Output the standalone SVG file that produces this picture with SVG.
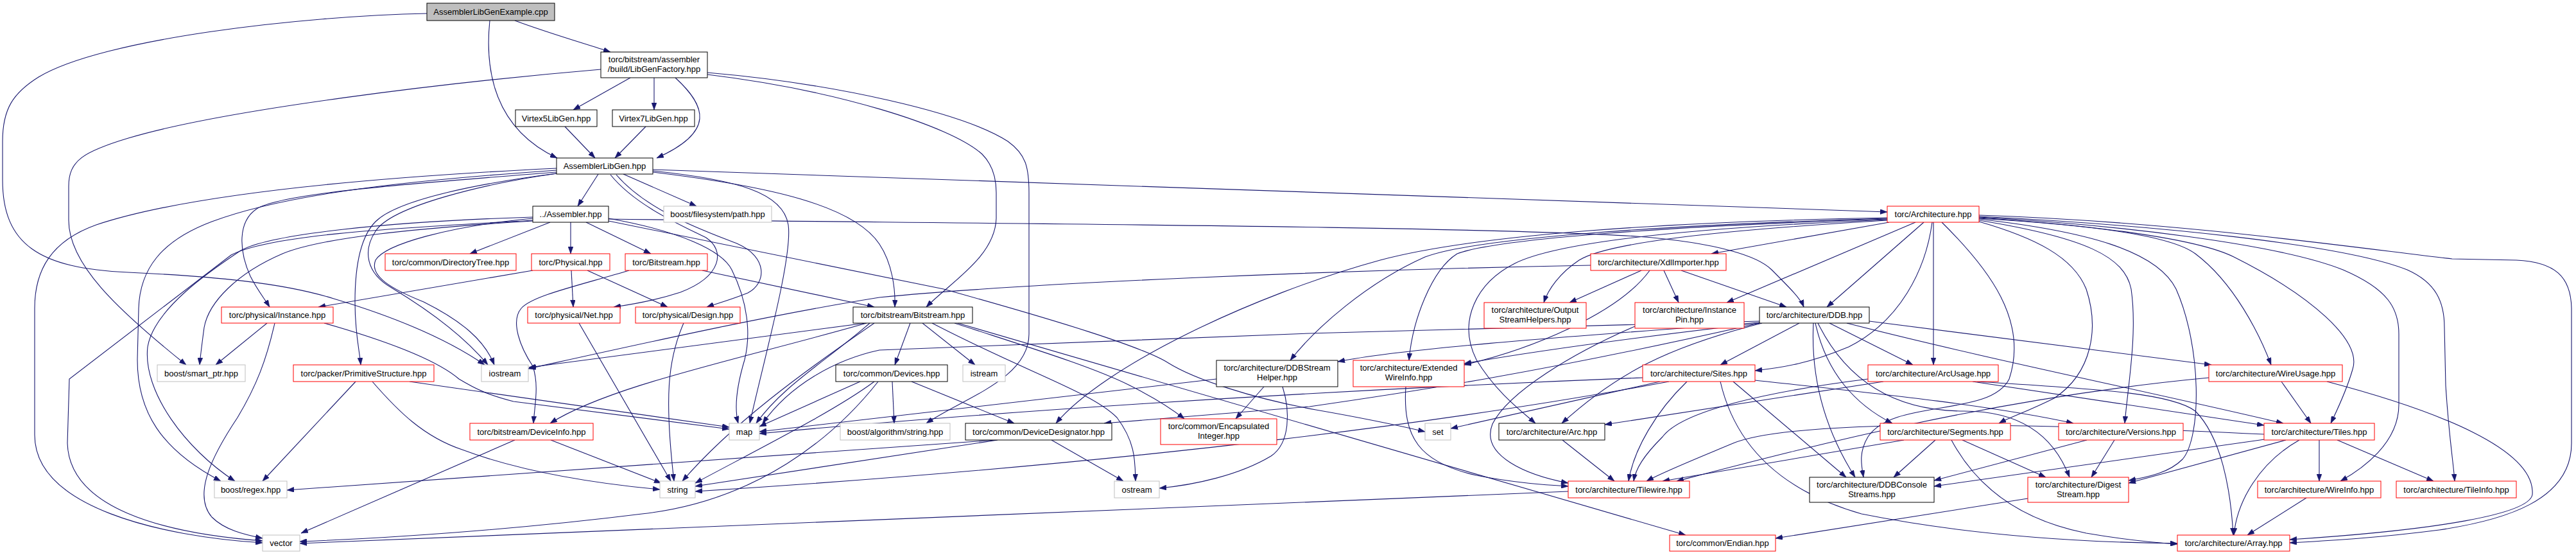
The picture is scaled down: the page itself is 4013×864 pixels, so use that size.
<svg xmlns="http://www.w3.org/2000/svg" width="4013" height="864" viewBox="0 0 4013 864">
<style>
text{font-family:"Liberation Sans",Helvetica,Arial,sans-serif;font-size:13px;text-anchor:middle;fill:#000}
.nb{fill:#fff;stroke:#000;stroke-width:1}
.nr{fill:#fff;stroke:#f00;stroke-width:1}
.ng{fill:#fff;stroke:#bfbfbf;stroke-width:1}
.root{fill:#bfbfbf;stroke:#000;stroke-width:1}
#edges path{fill:none;stroke:#191970;stroke-width:1.1;marker-end:url(#arr)}
</style>
<defs>
<marker id="arr" markerUnits="userSpaceOnUse" viewBox="0 0 11 8" markerWidth="11" markerHeight="8" refX="11" refY="4" orient="auto">
<path d="M0,0 L11,4 L0,8 Z" fill="#191970" stroke="#191970" stroke-width="0.5"/>
</marker>
</defs>
<rect x="0" y="0" width="4013" height="864" fill="#fff"/>
<g id="edges">
<path d="M802,32 C850,50 905,66 951,81"/>
<path d="M763,32 C755,110 770,200 868,246"/>
<path d="M665,21 C470,25 160,60 60,120 C20,145 4,170 4,220 L4,280 C4,380 60,418 200,424 C330,430 440,440 520,465 C620,495 700,530 755,568"/>
<path d="M982,121 L893,171"/>
<path d="M1019,121 L1019,171"/>
<path d="M1052,121 C1100,165 1115,205 1023,246"/>
<path d="M936,108 C700,128 350,170 200,215 C130,236 107,250 107,290 L107,343 C107,410 180,480 290,568"/>
<path d="M1102,113 C1300,130 1500,175 1570,220 C1598,240 1603,260 1603,300 L1603,520 C1603,590 1500,620 1443,659"/>
<path d="M1102,116 C1300,140 1480,195 1530,240 C1548,258 1552,280 1552,300 L1552,340 C1550,400 1480,440 1443,478"/>
<path d="M880,197 L927,246"/>
<path d="M1006,197 L958,246"/>
<path d="M932,271 L900,321"/>
<path d="M971,271 L1085,321"/>
<path d="M1017,264 L2940,330"/>
<path d="M867,262 C600,275 300,300 150,350 C80,375 54,420 54,480 L54,677 C54,790 250,835 409,845"/>
<path d="M867,265 C650,280 450,300 330,345 C250,375 218,420 216,480 L214,560 C214,640 250,700 344,749"/>
<path d="M867,268 C650,285 440,300 400,325 C370,345 372,390 390,430 C400,450 412,465 420,478"/>
<path d="M867,270 C750,285 620,310 585,345 C560,370 553,420 553,470 C553,520 560,545 562,568"/>
<path d="M868,270 C760,285 610,320 585,360 C565,390 570,425 610,448 C660,478 720,520 760,568"/>
<path d="M830,340 C700,352 600,380 585,405 C575,430 610,450 660,470 C720,500 755,530 770,568"/>
<path d="M830,343 C620,355 420,365 360,397 L108,590 L105,690 C108,790 250,830 409,842"/>
<path d="M830,338 C600,345 420,365 375,390 C330,420 240,480 230,540 C222,610 290,700 366,749"/>
<path d="M830,344 C650,355 500,370 440,395 C370,425 325,470 318,510 C314,540 312,555 311,568"/>
<path d="M857,346 L732,395"/>
<path d="M889,346 L889,395"/>
<path d="M913,346 L1014,395"/>
<path d="M948,341 C1500,348 2300,352 2550,368 C2680,378 2740,400 2760,420 C2790,450 2805,465 2810,478"/>
<path d="M948,344 L1470,450 C1650,500 1780,540 1820,565 C1860,590 1950,620 2050,638 C2130,652 2190,665 2220,672"/>
<path d="M948,340 C1060,360 1125,390 1140,420 C1165,470 1170,520 1160,560 C1145,610 1145,640 1150,659"/>
<path d="M951,272 C990,320 1060,350 1100,370 C1130,390 1125,430 1060,455 C1020,468 985,474 956,478"/>
<path d="M960,272 C1010,330 1100,360 1150,380 C1195,400 1195,440 1165,456 C1135,468 1112,474 1101,478"/>
<path d="M1017,266 C1150,280 1220,300 1228,350 C1235,400 1190,560 1168,659"/>
<path d="M1017,268 C1200,290 1330,320 1370,380 C1390,410 1395,450 1394,478"/>
<path d="M830,421 L496,478"/>
<path d="M890,421 L893,478"/>
<path d="M915,421 L1040,478"/>
<path d="M1094,421 L1362,478"/>
<path d="M980,421 C900,445 830,460 812,480 C795,500 810,540 830,570 C840,600 833,630 831,659"/>
<path d="M416,503 L336,568"/>
<path d="M428,503 C415,560 400,600 370,650 C330,710 300,770 330,805 C350,825 380,832 409,838"/>
<path d="M505,503 C600,530 680,560 715,590 C740,605 760,615 800,625 L1136,668"/>
<path d="M554,594 L409,749"/>
<path d="M638,594 L1136,665"/>
<path d="M580,594 C620,640 660,680 720,700 C800,730 900,750 1028,762"/>
<path d="M802,685 L469,830"/>
<path d="M858,685 L1030,752"/>
<path d="M902,503 L1045,749"/>
<path d="M1065,503 C1040,560 1035,620 1050,749"/>
<path d="M1348,503 L824,572"/>
<path d="M1350,503 C1150,560 950,600 857,659"/>
<path d="M1355,503 C1290,560 1220,600 1178,659"/>
<path d="M1362,503 C1250,580 1140,660 1063,749"/>
<path d="M1418,503 L1394,568"/>
<path d="M1437,503 L1519,568"/>
<path d="M1452,503 C1600,580 1700,610 1740,650 C1770,690 1768,720 1769,749"/>
<path d="M1487,503 C1600,540 1700,570 1760,600 C1800,620 1830,640 1845,652"/>
<path d="M1492,503 L2626,833"/>
<path d="M1340,594 L1183,664"/>
<path d="M1362,594 C1300,640 1180,700 1083,752"/>
<path d="M1368,594 C1300,680 1180,780 1000,800 C800,825 600,838 467,843"/>
<path d="M1390,594 L1393,659"/>
<path d="M1420,594 L1580,659"/>
<path d="M1969,602 L1925,652"/>
<path d="M1998,602 C2010,640 2010,690 1980,710 C1930,740 1860,755 1806,760"/>
<path d="M1895,590 L1183,672"/>
<path d="M1554,685 L1083,757"/>
<path d="M1550,685 L447,763"/>
<path d="M1638,685 L1750,749"/>
<path d="M2600,594 C2300,650 1800,720 1083,765"/>
<path d="M2559,588 C2000,610 1500,645 1183,675"/>
<path d="M2443,765 L467,846"/>
<path d="M2741,500 L2040,519 L1370,545 C1300,560 1230,600 1188,659"/>
<path d="M2741,502 C2500,520 2200,540 2084,563"/>
<path d="M2741,503 C2550,525 2400,545 2281,566"/>
<path d="M2803,503 L2680,568"/>
<path d="M2850,503 L2980,568"/>
<path d="M2745,503 C2600,540 2520,580 2433,659"/>
<path d="M2741,503 C2400,580 2200,610 2040,633 L1720,659"/>
<path d="M2825,503 C2820,600 2850,680 2890,743"/>
<path d="M2828,503 C2845,580 2890,630 2948,659"/>
<path d="M2832,503 C2880,600 2960,640 3060,640 C3150,640 3200,680 3224,743"/>
<path d="M2912,500 L3445,568"/>
<path d="M2877,503 C3100,560 3350,610 3557,659"/>
<path d="M2943,346 L2666,395"/>
<path d="M2940,339 C2600,345 2300,365 2150,405 C1950,460 1720,570 1645,659"/>
<path d="M2940,340 C2600,350 2300,370 2220,400 C2130,440 2050,510 2010,561"/>
<path d="M2940,341 C2600,352 2330,372 2270,395 C2230,420 2200,500 2195,561"/>
<path d="M2940,342 C2600,356 2420,380 2360,410 C2300,440 2270,500 2300,560 C2330,610 2370,640 2392,659"/>
<path d="M2940,343 C2650,360 2500,380 2460,405 C2430,425 2412,450 2405,471"/>
<path d="M2984,346 L2690,471"/>
<path d="M2997,346 L2846,478"/>
<path d="M3010,346 C3000,420 2960,500 2880,540 C2820,565 2780,572 2734,577"/>
<path d="M3012,346 L3012,568"/>
<path d="M3025,346 C3100,420 3160,500 3130,590 C3100,650 2950,620 2910,680 C2895,705 2900,725 2903,743"/>
<path d="M3083,345 C3170,370 3230,400 3250,450 C3270,510 3260,580 3200,620 C3160,640 3130,650 3114,659"/>
<path d="M3083,343 C3250,370 3310,400 3320,450 C3330,520 3315,600 3310,659"/>
<path d="M3083,341 C3250,360 3360,390 3390,450 C3430,540 3430,680 3400,715 C3380,735 3350,742 3316,748"/>
<path d="M3083,340 C3250,350 3380,365 3420,395 C3480,440 3520,520 3538,568"/>
<path d="M3083,339 C3250,350 3420,370 3480,400 C3600,460 3680,530 3665,575 C3655,610 3640,640 3631,659"/>
<path d="M3083,338 C3300,350 3550,380 3650,420 C3720,450 3737,480 3737,520 L3737,630 C3737,690 3680,730 3646,749"/>
<path d="M3083,337 C3350,350 3650,380 3750,420 C3795,440 3808,470 3808,510 L3810,600 C3815,680 3822,720 3824,749"/>
<path d="M3083,335 C3400,345 3700,390 3820,403 L3920,405 C3980,408 4005,430 4006,480 L4006,690 C4006,780 3900,810 3800,825 C3700,838 3620,842 3567,845"/>
<path d="M2478,413 C2100,420 1600,440 1370,463 C1200,490 1000,535 823,574"/>
<path d="M2557,421 L2445,471"/>
<path d="M2592,421 L2615,471"/>
<path d="M2619,421 L2783,478"/>
<path d="M2570,421 C2520,490 2380,545 2281,568"/>
<path d="M2547,508 C2450,550 2350,610 2325,660 C2305,710 2380,740 2443,752"/>
<path d="M2190,602 C2185,680 2210,720 2300,740 C2360,752 2410,755 2443,757"/>
<path d="M2434,685 L2515,749"/>
<path d="M2628,594 C2580,640 2545,700 2537,749"/>
<path d="M2586,594 L2260,667"/>
<path d="M2680,594 C2700,680 2760,760 2900,800 C3100,840 3300,845 3392,846"/>
<path d="M2700,594 L2876,743"/>
<path d="M2734,592 C2900,610 3100,630 3230,659"/>
<path d="M2934,594 L2500,661"/>
<path d="M2910,590 C2750,610 2620,640 2590,680 C2560,710 2548,730 2545,749"/>
<path d="M3073,594 L3527,662"/>
<path d="M3080,594 C3250,605 3380,610 3420,640 C3460,680 3475,760 3479,833"/>
<path d="M3015,685 L2950,743"/>
<path d="M3057,685 L3187,743"/>
<path d="M2966,685 L2590,749"/>
<path d="M3040,685 C3080,760 3150,810 3250,830 C3320,842 3360,845 3392,847"/>
<path d="M3251,685 L3013,748"/>
<path d="M3294,685 L3258,743"/>
<path d="M3528,684 L3013,757"/>
<path d="M3561,685 L3316,752"/>
<path d="M3441,588 C3100,620 2800,700 2612,749"/>
<path d="M3527,676 C3200,660 2800,650 2700,690 C2640,715 2590,735 2565,749"/>
<path d="M3554,594 L3600,659"/>
<path d="M3625,594 C3800,640 3950,700 3945,770 C3940,800 3800,825 3567,840"/>
<path d="M3593,775 L3501,833"/>
<path d="M3613,685 L3613,749"/>
<path d="M3641,685 L3791,749"/>
<path d="M3582,685 C3520,720 3485,780 3480,833"/>
<path d="M3159,776 L2766,838"/>
</g>
<g id="n1"><rect class="root" x="665" y="5" width="199" height="27"/><text x="764.5" y="23">AssemblerLibGenExample.cpp</text></g>
<g id="n2"><rect class="nb" x="936" y="81" width="166" height="40"/><text x="1019" y="97">torc/bitstream/assembler</text><text x="1019" y="112">/build/LibGenFactory.hpp</text></g>
<g id="n3"><rect class="nb" x="803" y="171" width="127" height="26"/><text x="866.5" y="188.5">Virtex5LibGen.hpp</text></g>
<g id="n4"><rect class="nb" x="954" y="171" width="128" height="26"/><text x="1018" y="188.5">Virtex7LibGen.hpp</text></g>
<g id="n5"><rect class="nb" x="867" y="246" width="150" height="25"/><text x="942" y="263">AssemblerLibGen.hpp</text></g>
<g id="n6"><rect class="nb" x="830" y="321" width="118" height="25"/><text x="889" y="338">../Assembler.hpp</text></g>
<g id="n7"><rect class="ng" x="1034" y="321" width="168" height="25"/><text x="1118" y="338">boost/filesystem/path.hpp</text></g>
<g id="n8"><rect class="nr" x="2940" y="321" width="143" height="25"/><text x="3011.5" y="338">torc/Architecture.hpp</text></g>
<g id="n9"><rect class="nr" x="600" y="395" width="204" height="26"/><text x="702" y="412.5">torc/common/DirectoryTree.hpp</text></g>
<g id="n10"><rect class="nr" x="828" y="395" width="122" height="26"/><text x="889" y="412.5">torc/Physical.hpp</text></g>
<g id="n11"><rect class="nr" x="974" y="395" width="128" height="26"/><text x="1038" y="412.5">torc/Bitstream.hpp</text></g>
<g id="n12"><rect class="nr" x="2478" y="395" width="211" height="26"/><text x="2583.5" y="412.5">torc/architecture/XdlImporter.hpp</text></g>
<g id="n13"><rect class="nr" x="345" y="478" width="174" height="25"/><text x="432" y="495">torc/physical/Instance.hpp</text></g>
<g id="n14"><rect class="nr" x="822" y="478" width="144" height="25"/><text x="894" y="495">torc/physical/Net.hpp</text></g>
<g id="n15"><rect class="nr" x="990" y="478" width="163" height="25"/><text x="1071.5" y="495">torc/physical/Design.hpp</text></g>
<g id="n16"><rect class="nb" x="1329" y="478" width="186" height="25"/><text x="1422" y="495">torc/bitstream/Bitstream.hpp</text></g>
<g id="n17"><rect class="nr" x="2312" y="471" width="159" height="40"/><text x="2391.5" y="487">torc/architecture/Output</text><text x="2391.5" y="502">StreamHelpers.hpp</text></g>
<g id="n18"><rect class="nr" x="2547" y="471" width="170" height="40"/><text x="2632" y="487">torc/architecture/Instance</text><text x="2632" y="502">Pin.hpp</text></g>
<g id="n19"><rect class="nb" x="2741" y="478" width="171" height="25"/><text x="2826.5" y="495">torc/architecture/DDB.hpp</text></g>
<g id="n20"><rect class="ng" x="245" y="568" width="137" height="26"/><text x="313.5" y="585.5">boost/smart_ptr.hpp</text></g>
<g id="n21"><rect class="nr" x="457" y="568" width="219" height="26"/><text x="566.5" y="585.5">torc/packer/PrimitiveStructure.hpp</text></g>
<g id="n22"><rect class="ng" x="750" y="568" width="73" height="26"/><text x="786.5" y="585.5">iostream</text></g>
<g id="n23"><rect class="nb" x="1302" y="568" width="174" height="26"/><text x="1389" y="585.5">torc/common/Devices.hpp</text></g>
<g id="n24"><rect class="ng" x="1500" y="568" width="66" height="26"/><text x="1533" y="585.5">istream</text></g>
<g id="n25"><rect class="nb" x="1895" y="561" width="189" height="41"/><text x="1989.5" y="577">torc/architecture/DDBStream</text><text x="1989.5" y="592">Helper.hpp</text></g>
<g id="n26"><rect class="nr" x="2108" y="561" width="173" height="41"/><text x="2194.5" y="577">torc/architecture/Extended</text><text x="2194.5" y="592">WireInfo.hpp</text></g>
<g id="n27"><rect class="nr" x="2559" y="568" width="175" height="26"/><text x="2646.5" y="585.5">torc/architecture/Sites.hpp</text></g>
<g id="n28"><rect class="nr" x="2910" y="568" width="203" height="26"/><text x="3011.5" y="585.5">torc/architecture/ArcUsage.hpp</text></g>
<g id="n29"><rect class="nr" x="3441" y="568" width="208" height="26"/><text x="3545" y="585.5">torc/architecture/WireUsage.hpp</text></g>
<g id="n30"><rect class="nr" x="732" y="659" width="192" height="26"/><text x="828" y="676.5">torc/bitstream/DeviceInfo.hpp</text></g>
<g id="n31"><rect class="ng" x="1136" y="659" width="47" height="26"/><text x="1159.5" y="676.5">map</text></g>
<g id="n32"><rect class="ng" x="1309" y="659" width="171" height="26"/><text x="1394.5" y="676.5">boost/algorithm/string.hpp</text></g>
<g id="n33"><rect class="nb" x="1504" y="659" width="228" height="26"/><text x="1618" y="676.5">torc/common/DeviceDesignator.hpp</text></g>
<g id="n34"><rect class="nr" x="1808" y="652" width="181" height="40"/><text x="1898.5" y="668">torc/common/Encapsulated</text><text x="1898.5" y="683">Integer.hpp</text></g>
<g id="n35"><rect class="ng" x="2220" y="659" width="40" height="26"/><text x="2240" y="676.5">set</text></g>
<g id="n36"><rect class="nb" x="2335" y="659" width="165" height="26"/><text x="2417.5" y="676.5">torc/architecture/Arc.hpp</text></g>
<g id="n37"><rect class="nr" x="2929" y="659" width="203" height="26"/><text x="3030.5" y="676.5">torc/architecture/Segments.hpp</text></g>
<g id="n38"><rect class="nr" x="3207" y="659" width="194" height="26"/><text x="3304" y="676.5">torc/architecture/Versions.hpp</text></g>
<g id="n39"><rect class="nr" x="3527" y="659" width="172" height="26"/><text x="3613" y="676.5">torc/architecture/Tiles.hpp</text></g>
<g id="n40"><rect class="ng" x="334" y="749" width="113" height="26"/><text x="390.5" y="766.5">boost/regex.hpp</text></g>
<g id="n41"><rect class="ng" x="1028" y="749" width="55" height="26"/><text x="1055.5" y="766.5">string</text></g>
<g id="n42"><rect class="ng" x="1736" y="749" width="70" height="26"/><text x="1771" y="766.5">ostream</text></g>
<g id="n43"><rect class="nr" x="2443" y="749" width="189" height="26"/><text x="2537.5" y="766.5">torc/architecture/Tilewire.hpp</text></g>
<g id="n44"><rect class="nb" x="2819" y="743" width="194" height="39"/><text x="2916" y="759">torc/architecture/DDBConsole</text><text x="2916" y="774">Streams.hpp</text></g>
<g id="n45"><rect class="nr" x="3159" y="743" width="157" height="39"/><text x="3237.5" y="759">torc/architecture/Digest</text><text x="3237.5" y="774">Stream.hpp</text></g>
<g id="n46"><rect class="nr" x="3517" y="749" width="192" height="26"/><text x="3613" y="766.5">torc/architecture/WireInfo.hpp</text></g>
<g id="n47"><rect class="nr" x="3733" y="749" width="187" height="26"/><text x="3826.5" y="766.5">torc/architecture/TileInfo.hpp</text></g>
<g id="n48"><rect class="ng" x="409" y="833" width="58" height="25"/><text x="438" y="850">vector</text></g>
<g id="n49"><rect class="nr" x="2601" y="833" width="165" height="25"/><text x="2683.5" y="850">torc/common/Endian.hpp</text></g>
<g id="n50"><rect class="nr" x="3392" y="833" width="175" height="25"/><text x="3479.5" y="850">torc/architecture/Array.hpp</text></g>
</svg>
